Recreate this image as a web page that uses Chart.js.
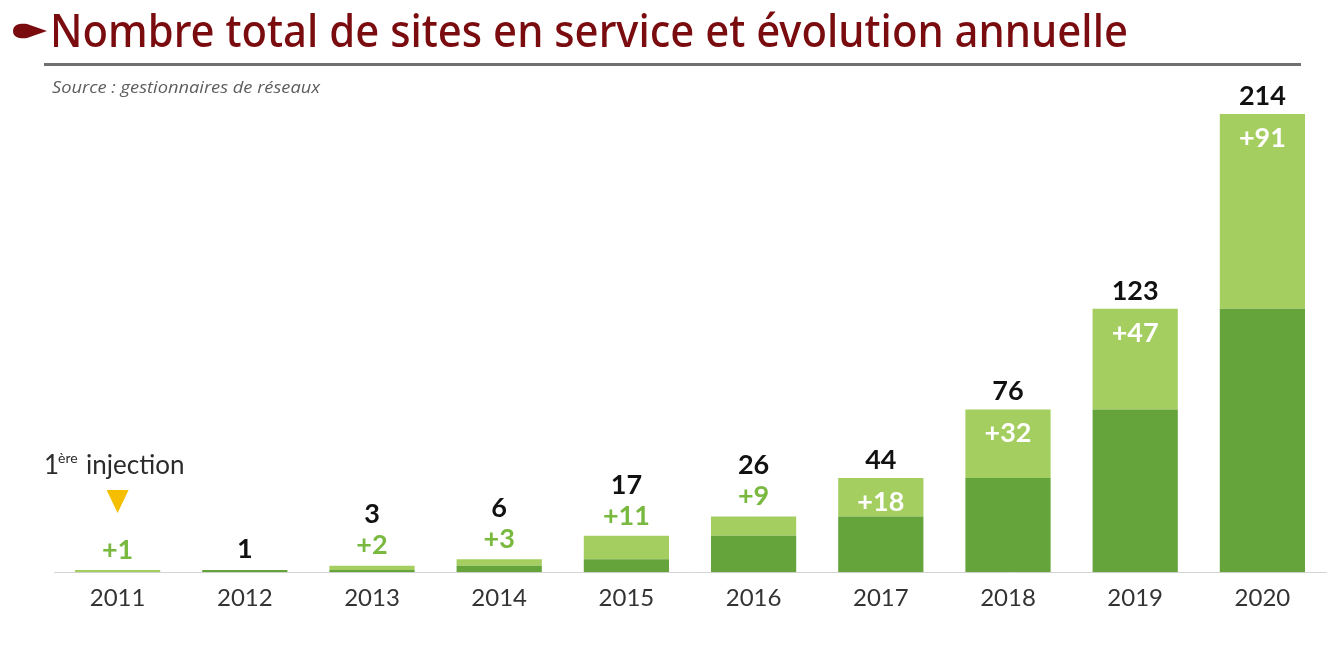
<!DOCTYPE html>
<html>
<head>
<meta charset="utf-8">
<script src="https://cdn.jsdelivr.net/npm/chart.js@4.4.1/dist/chart.umd.min.js"></script>
<style>
  html, body { margin: 0; padding: 0; background: #fff; }
  body { width: 1330px; height: 648px; position: relative; overflow: hidden; }
  #titre {
    position: absolute; left: 50px; top: 1px;
    font-family: "Noto Sans", "Open Sans", sans-serif; font-weight: 500;
    font-size: 46px; color: #7a0b0e; white-space: nowrap; line-height: 56px;
    transform-origin: 0 0;
  }
  #puce { position: absolute; left: 11px; top: 21px; }
  #regle { position: absolute; left: 44px; top: 63px; width: 1257px; height: 3px; background: #707070; }
  #source {
    position: absolute; left: 52px; top: 76px;
    font-family: "Open Sans", sans-serif; font-style: italic; font-size: 16px; color: #5e5e5e;
    white-space: nowrap; transform-origin: 0 0;
  }
  #graph { position: absolute; left: 0; top: 0; }
</style>
</head>
<body>
<canvas id="MiGrafica" width="1330" height="648"></canvas>
<svg id="puce" width="38" height="20" viewBox="0 0 38 20">
  <path d="M2 10 C2 3 10 2 16 3 L36 10 L16 17 C10 18 2 17 2 10 Z" fill="#7a0b0e"/>
</svg>
<div id="titre">Nombre total de sites en service et évolution annuelle</div>
<div id="regle"></div>
<div id="source">Source : gestionnaires de réseaux</div>
<script>
// donnees
const annees = ['2011', '2012', '2013', '2014', '2015', '2016', '2017', '2018', '2019', '2020'];
const sitesAnterieurs = [0, 1, 1, 3, 6, 17, 26, 44, 76, 123];
const nouveauxSites = [1, 0, 2, 3, 11, 9, 18, 32, 47, 91];
const totaux = [null, 1, 3, 6, 17, 26, 44, 76, 123, 214];
const etiquettesEvolution = ['+1', null, '+2', '+3', '+11', '+9', '+18', '+32', '+47', '+91'];

// ajuste la largeur du titre
const ajuster = (id, largeur) => {
    const el = document.getElementById(id);
    const w = el.getBoundingClientRect().width;
    el.style.transform = 'scaleX(' + (largeur / w) + ')';
};
ajuster('titre', 1078);
ajuster('source', 268);

const etiquettes = {
    id: 'etiquettes',
    afterDatasetsDraw(chart) {
        const ctx = chart.ctx;
        const barresBase = chart.getDatasetMeta(0).data;
        const barresNouv = chart.getDatasetMeta(1).data;
        ctx.save();
        ctx.textAlign = 'center';
        ctx.textBaseline = 'middle';
        for (let i = 0; i < annees.length; i++) {
            const b = barresNouv[i];
            const haut = Math.min(b.y, barresBase[i].y);
            const dedans = (b.base - b.y) > 30;
            ctx.font = 'bold 27px Lato, "Open Sans", sans-serif';
            if (etiquettesEvolution[i]) {
                if (dedans) {
                    ctx.fillStyle = '#ffffff';
                    ctx.fillText(etiquettesEvolution[i], b.x, haut + 24);
                } else {
                    ctx.fillStyle = '#79b93f';
                    ctx.fillText(etiquettesEvolution[i], b.x, haut - 20);
                }
            }
            if (totaux[i] !== null) {
                ctx.fillStyle = '#111111';
                let y;
                if (dedans) y = haut - 18;
                else if (etiquettesEvolution[i]) y = haut - 51;
                else y = haut - 21;
                ctx.fillText(String(totaux[i]), b.x, y);
            }
        }
        // annotation premiere injection
        const x0 = barresNouv[0].x;
        ctx.fillStyle = '#2b2b2b';
        ctx.textAlign = 'left';
        ctx.font = '26px Lato, "Open Sans", sans-serif';
        ctx.fillText('1', 44, 466);
        ctx.font = '14px Lato, "Open Sans", sans-serif';
        ctx.fillText('ère', 58, 458);
        ctx.font = '26px Lato, "Open Sans", sans-serif';
        ctx.fillText('injection', 86, 466);
        ctx.fillStyle = '#f5bf00';
        ctx.beginPath();
        ctx.moveTo(x0 - 11, 490);
        ctx.lineTo(x0 + 11, 490);
        ctx.lineTo(x0, 513);
        ctx.closePath();
        ctx.fill();
        ctx.restore();
    }
};

var ctx = document.getElementById('MiGrafica').getContext('2d');
var myChart = new Chart(ctx, {
    type: 'bar',
    data: {
        labels: annees,
        datasets: [{
            label: 'Sites en service l\'année précédente',
            data: sitesAnterieurs,
            backgroundColor: '#64a43a',
            barPercentage: 0.67,
            categoryPercentage: 1
        }, {
            label: 'Nouveaux sites',
            data: nouveauxSites,
            backgroundColor: '#a4ce60',
            barPercentage: 0.67,
            categoryPercentage: 1
        }]
    },
    options: {
        responsive: false,
        animation: false,
        layout: { padding: { left: 54, right: 4, top: 114, bottom: 23 } },
        plugins: {
            legend: { display: false },
            tooltip: { enabled: false }
        },
        scales: {
            x: {
                stacked: true,
                grid: { display: false, drawTicks: false },
                border: { color: '#d4d4d4', width: 1 },
                ticks: {
                    padding: 12,
                    color: '#333333',
                    font: { family: 'Lato, "Open Sans", sans-serif', size: 24 }
                }
            },
            y: {
                stacked: true,
                display: false,
                min: 0,
                max: 214
            }
        }
    },
    plugins: [etiquettes]
});
</script>
</body>
</html>
